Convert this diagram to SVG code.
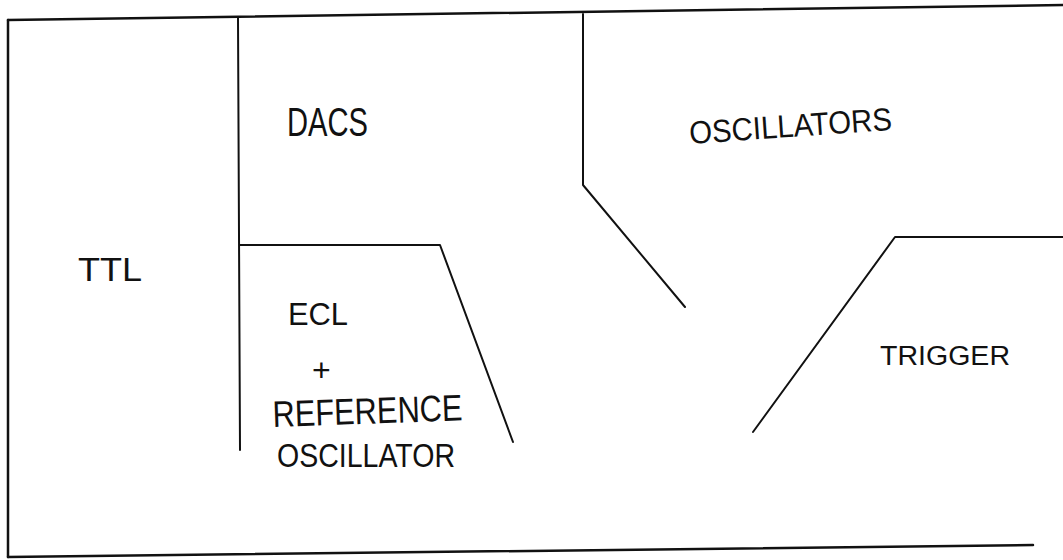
<svg xmlns="http://www.w3.org/2000/svg" width="1063" height="560" viewBox="0 0 1063 560">
<style>
.ln{fill:none;stroke:#111;stroke-width:2;stroke-linecap:round;stroke-linejoin:round}
.fr{fill:none;stroke:#111;stroke-width:2.5;stroke-linecap:round}
.t{font-family:"Liberation Sans","DejaVu Sans",sans-serif;fill:#111}
</style>
<rect width="1063" height="560" fill="#fff"/>
<g id="frame">
<polyline class="fr" points="8,20 1063,5"/>
<polyline class="fr" points="8,20 8,557"/>
<polyline class="fr" points="8,557 1033,545"/>
</g>
<g id="partitions">
<polyline class="ln" points="238,18 240,450"/>
<polyline class="ln" points="240,245 440,245 513,442"/>
<polyline class="ln" points="583,14 583,185 685,307"/>
<polyline class="ln" points="1063,237 895,237 753,432"/>
</g>
<g id="ttl"><text class="t" x="78" y="281" font-size="34" textLength="64" lengthAdjust="spacingAndGlyphs">TTL</text></g>
<g id="dacs"><text class="t" x="287" y="136" font-size="40" textLength="81" lengthAdjust="spacingAndGlyphs">DACS</text></g>
<g id="oscillators"><text class="t" x="690" y="144" font-size="32" textLength="203" lengthAdjust="spacingAndGlyphs" transform="rotate(-4 690 144)">OSCILLATORS</text></g>
<g id="trigger"><text class="t" x="880" y="365" font-size="27" textLength="130" lengthAdjust="spacingAndGlyphs">TRIGGER</text></g>
<g id="ecl">
<text class="t" x="288" y="325" font-size="31" textLength="60" lengthAdjust="spacingAndGlyphs">ECL</text>
<text class="t" x="312" y="381" font-size="32">+</text>
<text class="t" x="273" y="427" font-size="37" textLength="190" lengthAdjust="spacingAndGlyphs" transform="rotate(-2 273 427)">REFERENCE</text>
<text class="t" x="277" y="467" font-size="33" textLength="178" lengthAdjust="spacingAndGlyphs">OSCILLATOR</text>
</g>
</svg>
